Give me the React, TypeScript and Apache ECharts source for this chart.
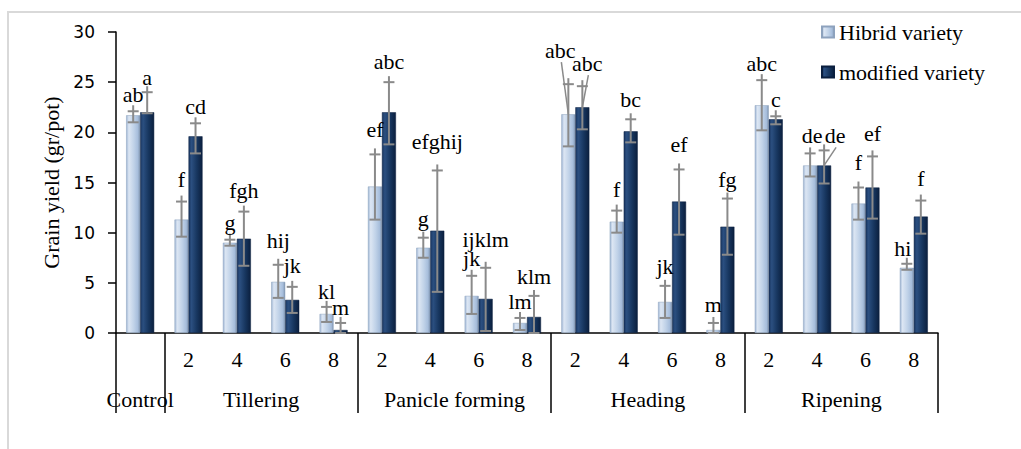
import React, { useEffect, useRef } from "react";
import * as echarts from "echarts";

const categories = ["Control", "2", "4", "6", "8", "2", "4", "6", "8", "2", "4", "6", "8", "2", "4", "6", "8"];
const groupNames = ["Control", "Tillering", "Panicle forming", "Heading", "Ripening"];
const groupBounds = [0, 1, 5, 9, 13, 17];
const groupCenters = [0.5, 3, 7, 11, 15];

const hibrid = [21.7, 11.3, 9.0, 5.1, 1.9, 14.6, 8.5, 3.7, 1.0, 21.8, 11.1, 3.1, 0.3, 22.7, 16.7, 12.9, 6.5];
const modified = [22.0, 19.6, 9.4, 3.3, 0.3, 22.0, 10.2, 3.4, 1.6, 22.5, 20.1, 13.1, 10.6, 21.3, 16.7, 14.5, 11.6];

const hibridLow = [21.0, 9.6, 8.7, 3.5, 1.1, 11.3, 7.5, 1.9, 0.3, 18.6, 10.0, 1.5, 0.0, 20.2, 15.6, 11.3, 6.3];
const hibridHigh = [22.1, 13.1, 9.3, 6.8, 2.6, 17.8, 9.5, 5.7, 1.5, 24.8, 12.2, 4.7, 1.0, 25.2, 17.9, 14.5, 6.9];
const modifiedLow = [21.9, 17.9, 6.7, 2.0, 0.0, 18.8, 4.1, 0.2, 0.0, 20.3, 19.0, 9.8, 7.8, 20.8, 14.9, 11.4, 9.9];
const modifiedHigh = [24.0, 20.9, 12.1, 4.6, 1.0, 25.0, 16.2, 6.5, 3.7, 24.6, 21.3, 16.3, 13.4, 21.6, 18.2, 17.6, 13.2];

const hibridLetters = ["ab", "f", "g", "hij", "kl", "ef", "g", "jk", "lm", "abc", "f", "jk", "m", "abc", "de", "f", "hi"];
const modifiedLetters = ["a", "cd", "fgh", "jk", "m", "abc", "efghij", "ijklm", "klm", "abc", "bc", "ef", "fg", "c", "de", "ef", "f"];
const hibridLetterY = [23.8, 15.3, 11.0, 9.2, 4.1, 20.3, 11.4, 7.4, 3.1, 28.2, 14.3, 6.6, 2.8, 26.9, 19.7, 17.0, 8.4];
const modifiedLetterY = [25.5, 22.6, 14.2, 6.7, 2.5, 27.1, 19.1, 9.3, 5.6, 26.9, 23.3, 18.8, 15.3, 23.3, 19.7, 19.9, 15.4];

// small horizontal nudges (px) and leader lines for crowded letters
const hibridNudge: Record<number, number> = { 9: -8, 14: 2, 16: -4 };
const modifiedNudge: Record<number, number> = { 9: 5, 14: 11 };
const hibridLeaders = [9];
const modifiedLeaders = [9, 14];

const BAR_W = 14;
const SERIF = "'Liberation Serif', 'Times New Roman', serif";

export default function App() {
  const ref = useRef<HTMLDivElement>(null);

  useEffect(() => {
    if (!ref.current) return;
    const chart = echarts.init(ref.current, undefined, { renderer: "svg" });

    const hibColor = new echarts.graphic.LinearGradient(0, 0, 1, 0, [
      { offset: 0, color: "#9fb6d4" },
      { offset: 0.18, color: "#dce6f3" },
      { offset: 0.55, color: "#c0d2e8" },
      { offset: 0.85, color: "#a6bddb" },
      { offset: 1, color: "#7e93ae" },
    ]);
    const modColor = new echarts.graphic.LinearGradient(0, 0, 1, 0, [
      { offset: 0, color: "#1a3762" },
      { offset: 0.2, color: "#2b4f80" },
      { offset: 0.6, color: "#17365f" },
      { offset: 1, color: "#0b1f3e" },
    ]);

    const errRender = (offset: number) => (params: any, api: any) => {
      const i = api.value(0);
      const lo = api.coord([i, api.value(1)]);
      const hi = api.coord([i, api.value(2)]);
      const x = lo[0] + offset;
      const st = { stroke: "#8a8a8a", lineWidth: 2 };
      return {
        type: "group",
        children: [
          { type: "line", shape: { x1: x, y1: lo[1], x2: x, y2: hi[1] - 6 }, style: st },
          { type: "line", shape: { x1: x - 5.5, y1: hi[1], x2: x + 5.5, y2: hi[1] }, style: st },
          { type: "line", shape: { x1: x - 5.5, y1: lo[1], x2: x + 5.5, y2: lo[1] }, style: st },
        ],
      };
    };

    const letterRender =
      (offset: number, letters: string[], values: number[], nudge: Record<number, number>, leaders: number[]) =>
      (params: any, api: any) => {
        const i = api.value(0);
        const p = api.coord([i, api.value(1)]);
        const dx = nudge[params.dataIndex] || 0;
        const x = p[0] + offset + dx;
        const children: any[] = [
          {
            type: "text",
            x,
            y: p[1],
            style: {
              text: letters[params.dataIndex],
              fill: "#000",
              font: `22px ${SERIF}`,
              align: "center",
              verticalAlign: "middle",
            },
          },
        ];
        if (leaders.indexOf(params.dataIndex) >= 0) {
          const top = api.coord([i, values[params.dataIndex]]);
          children.push({
            type: "line",
            shape: { x1: x + 1, y1: p[1] + 12, x2: top[0] + offset, y2: top[1] },
            style: { stroke: "#8a8a8a", lineWidth: 1.5 },
          });
        }
        return { type: "group", children };
      };

    chart.setOption({
      animation: false,
      grid: { left: 116, right: 83, top: 32, bottom: 116, containLabel: false },
      graphic: [
        {
          type: "rect",
          shape: { x: 8, y: 12, width: 1040, height: 460 },
          style: { fill: "none", stroke: "#d9d9d9", lineWidth: 2 },
          silent: true,
        },
      ],
      legend: {
        data: ["Hibrid variety", "modified variety"],
        orient: "vertical",
        left: 816,
        top: 16,
        itemWidth: 12,
        itemHeight: 11,
        itemGap: 18,
        icon: "rect",
        textStyle: { fontFamily: SERIF, fontSize: 22, color: "#000" },
      },
      xAxis: [
        {
          type: "category",
          data: categories,
          position: "bottom",
          axisLine: { show: true, lineStyle: { color: "#000", width: 1.5 } },
          axisTick: { show: false },
          axisLabel: {
            color: "#000",
            fontFamily: SERIF,
            fontSize: 22,
            margin: 15,
            formatter: (v: string, idx: number) => (idx === 0 ? "" : v),
            interval: 0,
          },
        },
        {
          type: "value",
          min: 0,
          max: 17,
          position: "bottom",
          axisLine: { show: false },
          splitLine: { show: false },
          axisTick: {
            show: true,
            customValues: groupBounds,
            length: 80,
            inside: false,
            lineStyle: { color: "#000", width: 1.5 },
          },
          axisLabel: {
            show: true,
            customValues: groupCenters,
            color: "#000",
            fontFamily: SERIF,
            fontSize: 22,
            margin: 55,
            formatter: (v: number) => {
              const k = groupCenters.indexOf(v);
              return k >= 0 ? groupNames[k] : "";
            },
          },
        },
      ],
      yAxis: {
        type: "value",
        min: 0,
        max: 30,
        interval: 5,
        name: "Grain yield (gr/pot)",
        nameLocation: "middle",
        nameGap: 52,
        nameTextStyle: { fontFamily: SERIF, fontSize: 22, color: "#000" },
        axisLine: { show: true, lineStyle: { color: "#000", width: 1.5 } },
        axisTick: { show: true, length: 8, lineStyle: { color: "#000", width: 1.5 } },
        splitLine: { show: false },
        axisLabel: { color: "#000", fontFamily: "'DejaVu Sans', sans-serif", fontSize: 17, margin: 21 },
      },
      series: [
        {
          name: "Hibrid variety",
          type: "bar",
          data: hibrid,
          barWidth: BAR_W,
          barGap: "0%",
          itemStyle: { color: hibColor, borderColor: "#8da2bd", borderWidth: 0.5 },
        },
        {
          name: "modified variety",
          type: "bar",
          data: modified,
          barWidth: BAR_W,
          barGap: "0%",
          itemStyle: { color: modColor, borderColor: "#0b1f3e", borderWidth: 0.5 },
        },
        {
          type: "custom",
          name: "err-h",
          data: hibrid.map((_, i) => [i, hibridLow[i], hibridHigh[i]]),
          encode: { x: 0, y: [1, 2] },
          renderItem: errRender(-BAR_W / 2),
          z: 5,
        },
        {
          type: "custom",
          name: "err-m",
          data: modified.map((_, i) => [i, modifiedLow[i], modifiedHigh[i]]),
          encode: { x: 0, y: [1, 2] },
          renderItem: errRender(BAR_W / 2),
          z: 5,
        },
        {
          type: "custom",
          name: "lab-h",
          data: hibridLetterY.map((v, i) => [i, v]),
          encode: { x: 0, y: 1 },
          renderItem: letterRender(-BAR_W / 2, hibridLetters, hibrid, hibridNudge, hibridLeaders),
          z: 6,
        },
        {
          type: "custom",
          name: "lab-m",
          data: modifiedLetterY.map((v, i) => [i, v]),
          encode: { x: 0, y: 1 },
          renderItem: letterRender(BAR_W / 2, modifiedLetters, modified, modifiedNudge, modifiedLeaders),
          z: 6,
        },
      ],
    });

    return () => chart.dispose();
  }, []);

  return (
    <div
      ref={ref}
      style={{ position: "absolute", left: 0, top: 0, width: 1021, height: 449, background: "#fff" }}
    />
  );
}
